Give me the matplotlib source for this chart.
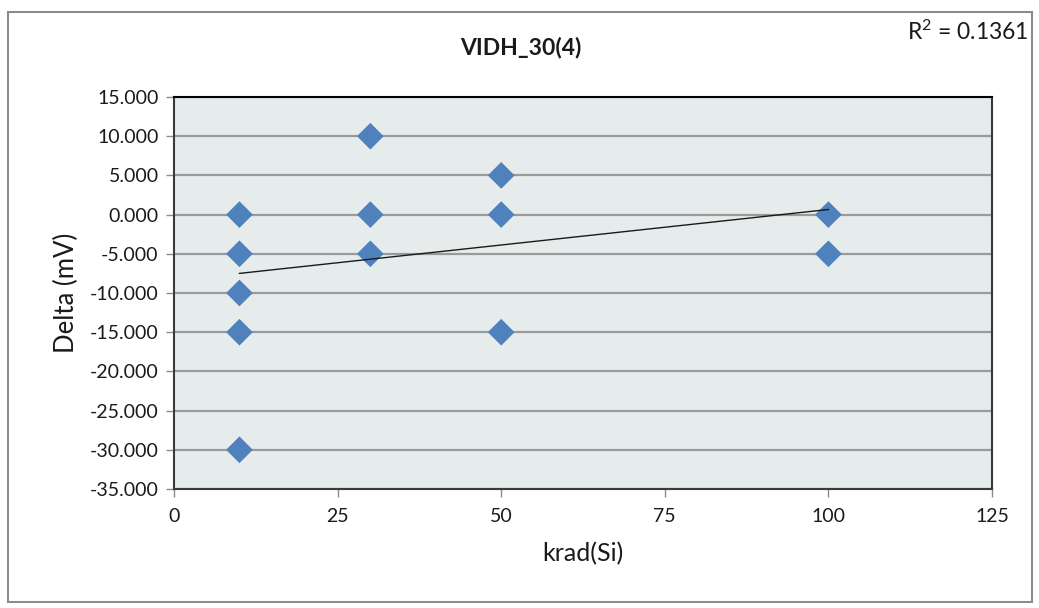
import matplotlib
matplotlib.use("Agg")
import matplotlib.pyplot as plt
from matplotlib.patches import Rectangle
from matplotlib.ticker import FixedLocator, FuncFormatter

# Dose (krad(Si)) and measured VIDH shift (mV)
dose = [10, 10, 10, 10, 10, 30, 30, 30, 50, 50, 50, 100, 100]
delta = [0, -5, -10, -15, -30, 10, 0, -5, 5, 0, -15, 0, -5]

# Linear trendline endpoints and its fit statistic
trend_x = [10, 100]
trend_y = [-7.5, 0.65]
r_squared = 0.1361

x_ticks = [0, 25, 50, 75, 100, 125]
y_ticks = [15, 10, 5, 0, -5, -10, -15, -20, -25, -30, -35]

plt.rcParams["font.family"] = ["Lato", "DejaVu Sans"]
plt.rcParams["mathtext.fontset"] = "custom"
plt.rcParams["mathtext.rm"] = "Lato"
plt.rcParams["mathtext.it"] = "Lato:italic"

fig = plt.figure(figsize=(10.39, 6.08), dpi=100)
fig.patch.set_facecolor("white")

# outer chart frame
fig.patches.append(Rectangle((8 / 1039, 1 - 602 / 608), 1024 / 1039, 590 / 608,
                             transform=fig.transFigure, fill=False,
                             edgecolor="#8c8c8c", linewidth=1.5))

ax = fig.add_axes([174 / 1039, 1 - 489 / 608, 818 / 1039, 392 / 608])
ax.set_facecolor("#e6ecec")

ax.set_xlim(0, 125)
ax.set_ylim(-35, 15)
ax.xaxis.set_major_locator(FixedLocator(x_ticks))
ax.yaxis.set_major_locator(FixedLocator(y_ticks))
ax.yaxis.set_major_formatter(FuncFormatter(lambda v, p: f"{v:.3f}"))

ax.grid(axis="y", color="#9a9a9a", linewidth=1.6, zorder=1)
ax.set_axisbelow(True)

for side in ["top", "bottom", "left", "right"]:
    ax.spines[side].set_color("#3a3a3a")
    ax.spines[side].set_linewidth(1.5)
ax.spines["top"].set_color("#000000")

ax.tick_params(axis="both", direction="out", length=6, width=1, color="#8c8c8c",
               labelsize=14, labelcolor="#1a1a1a")
ax.tick_params(axis="x", pad=8)
ax.tick_params(axis="y", pad=5)

ax.scatter(dose, delta, marker="D", s=185, color="#4f81bd", edgecolors="none", zorder=3)
ax.plot(trend_x, trend_y, color="#1a1a1a", linewidth=1.0, zorder=4)

ax.set_xlabel("krad(Si)", fontsize=18, color="#1a1a1a", labelpad=12)
ax.set_ylabel("Delta (mV)", fontsize=18.5, color="#1a1a1a", labelpad=8)

fig.text(521 / 1039, 1 - 48 / 608, "VIDH_30(4)", ha="center", va="center",
         fontsize=16.5, fontweight="bold", color="#1a1a1a")
fig.text(968 / 1039, 1 - 32 / 608, r"R$^{\mathrm{2}}$" + f" = {r_squared:.4f}",
         ha="center", va="center", fontsize=16.5, color="#1a1a1a")

fig.savefig("out.png", dpi=100, facecolor="white")
